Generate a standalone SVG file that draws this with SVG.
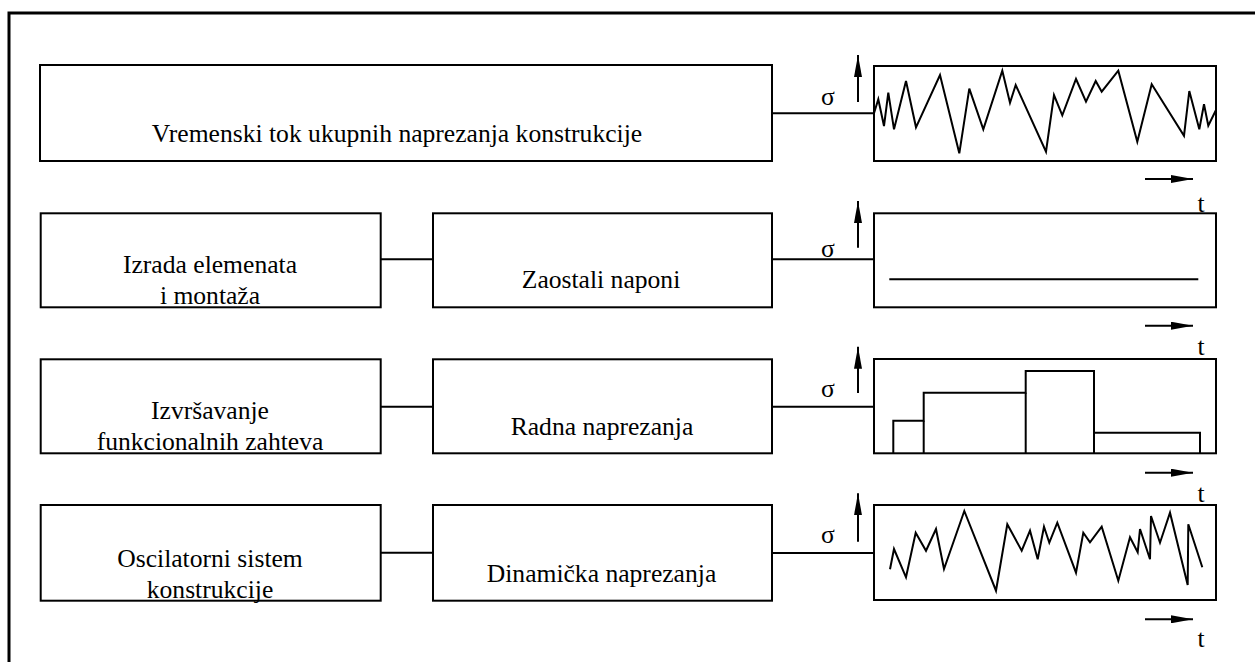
<svg xmlns="http://www.w3.org/2000/svg" width="1255" height="662" viewBox="0 0 1255 662">
<defs>
<style>
.box{fill:#fff;stroke:#000;stroke-width:2}
.ln{fill:none;stroke:#000;stroke-width:2}
.plot{fill:none;stroke:#000;stroke-width:2;stroke-linejoin:miter}
text{font-family:'Liberation Serif','Times New Roman','DejaVu Serif',serif;font-size:25.6px;fill:#000;text-anchor:middle}
.ax{fill:none;stroke:#000;stroke-width:2;marker-end:url(#ah)}
</style>
<marker id="ah" markerUnits="userSpaceOnUse" markerWidth="22" markerHeight="8" refX="22" refY="4" orient="auto">
<path d="M0,0 L22,4 L0,8 z" fill="#000"/>
</marker>
</defs>
<rect width="1255" height="662" fill="#fff"/>
<path d="M9,662 V13 H1255" fill="none" stroke="#000" stroke-width="3"/>

<g id="connectors">
<line class="ln" x1="772" y1="113.3" x2="874" y2="113.3"/>
<line class="ln" x1="381" y1="259.3" x2="433" y2="259.3"/>
<line class="ln" x1="772" y1="259.3" x2="874" y2="259.3"/>
<line class="ln" x1="381" y1="406.7" x2="433" y2="406.7"/>
<line class="ln" x1="772" y1="406.7" x2="874" y2="406.7"/>
<line class="ln" x1="381" y1="552.7" x2="433" y2="552.7"/>
<line class="ln" x1="772" y1="553" x2="874" y2="553"/>
</g>

<g id="total">
<rect class="box" x="40" y="65" width="732" height="96"/>
<text x="397" y="142">Vremenski tok ukupnih naprezanja konstrukcije</text>
</g>

<g id="izrada">
<rect class="box" x="40.7" y="213.3" width="340" height="94"/>
<text x="210" y="273">Izrada elemenata</text>
<text x="210" y="304">i montaža</text>
</g>
<g id="zaostali">
<rect class="box" x="433" y="213.3" width="339" height="94"/>
<text x="601" y="288">Zaostali naponi</text>
</g>

<g id="izvrsavanje">
<rect class="box" x="40.7" y="359.3" width="340" height="94"/>
<text x="210" y="419">Izvršavanje</text>
<text x="210" y="450">funkcionalnih zahteva</text>
</g>
<g id="radna">
<rect class="box" x="433" y="359.3" width="339" height="94"/>
<text x="602" y="435">Radna naprezanja</text>
</g>

<g id="oscilatorni">
<rect class="box" x="40.7" y="505" width="340" height="95.7"/>
<text x="210" y="567">Oscilatorni sistem</text>
<text x="210" y="598">konstrukcije</text>
</g>
<g id="dinamicka">
<rect class="box" x="433" y="505" width="339" height="95.7"/>
<text x="601.5" y="582">Dinamička naprezanja</text>
</g>

<g id="graph1">
<text x="828" y="105">σ</text>
<line class="ax" x1="858" y1="102" x2="858" y2="55"/>
<rect class="box" x="874" y="66" width="342" height="95"/>
<polyline class="plot" points="874,113.3 878.3,99.3 884,126 888.3,92.7 894,129.3 906,81 916,127.3 940,75 959.3,153.3 969.3,88.7 983.3,129.3 1002.3,70.7 1010,102.7 1015.7,85 1046,151.7 1054,95 1062.3,115.3 1076,79 1086,101.7 1095.7,81 1101.7,91.7 1118.3,70.7 1137.3,141.7 1151.7,84.3 1184,135.7 1189.3,91 1199.3,129.3 1204,104.3 1208.3,125.7 1216,110"/>
<line class="ax" x1="1145" y1="179" x2="1193" y2="179"/>
<text x="1201" y="211.5">t</text>
</g>

<g id="graph2">
<text x="828" y="256.7">σ</text>
<line class="ax" x1="858" y1="247.7" x2="858" y2="201"/>
<rect class="box" x="874" y="213.3" width="342" height="94"/>
<line class="plot" x1="889.3" y1="279.3" x2="1198.3" y2="279.3"/>
<line class="ax" x1="1145" y1="325.7" x2="1193" y2="325.7"/>
<text x="1201" y="355">t</text>
</g>

<g id="graph3">
<text x="828" y="397">σ</text>
<line class="ax" x1="858" y1="393" x2="858" y2="346.7"/>
<rect class="box" x="874" y="359" width="342" height="94.3"/>
<polyline class="plot" points="893.3,453.3 893.3,420.7 923.7,420.7 923.7,392.7 1025.7,392.7 1025.7,371 1094,371 1094,432.7 1200,432.7 1200,453.3"/>
<line class="plot" x1="923.7" y1="420.7" x2="923.7" y2="453.3"/>
<line class="plot" x1="1025.7" y1="392.7" x2="1025.7" y2="453.3"/>
<line class="plot" x1="1094" y1="432.7" x2="1094" y2="453.3"/>
<line class="ax" x1="1145" y1="472.7" x2="1193" y2="472.7"/>
<text x="1201" y="501.7">t</text>
</g>

<g id="graph4">
<text x="828" y="543.3">σ</text>
<line class="ax" x1="858" y1="541.7" x2="858" y2="493.3"/>
<rect class="box" x="874" y="505" width="342" height="95"/>
<polyline class="plot" points="890,569.3 894,549 906,577.3 915.7,532.7 926,550.7 936,529 944,569 964.3,511 996,590.7 1007.3,524.3 1021.7,550.7 1030,530.7 1037.7,559.3 1044,526.7 1049.3,542.7 1057.3,522.7 1076,572.7 1083.3,532.7 1090,542.3 1101.7,526.7 1118.3,580.7 1130,537.3 1137.7,552.3 1140,529 1150,559.3 1151,516 1160,542.7 1170,512.7 1187.7,585 1188.3,524.3 1202.3,567.3"/>
<line class="ax" x1="1145" y1="619.3" x2="1193" y2="619.3"/>
<text x="1201" y="646.7">t</text>
</g>
</svg>
